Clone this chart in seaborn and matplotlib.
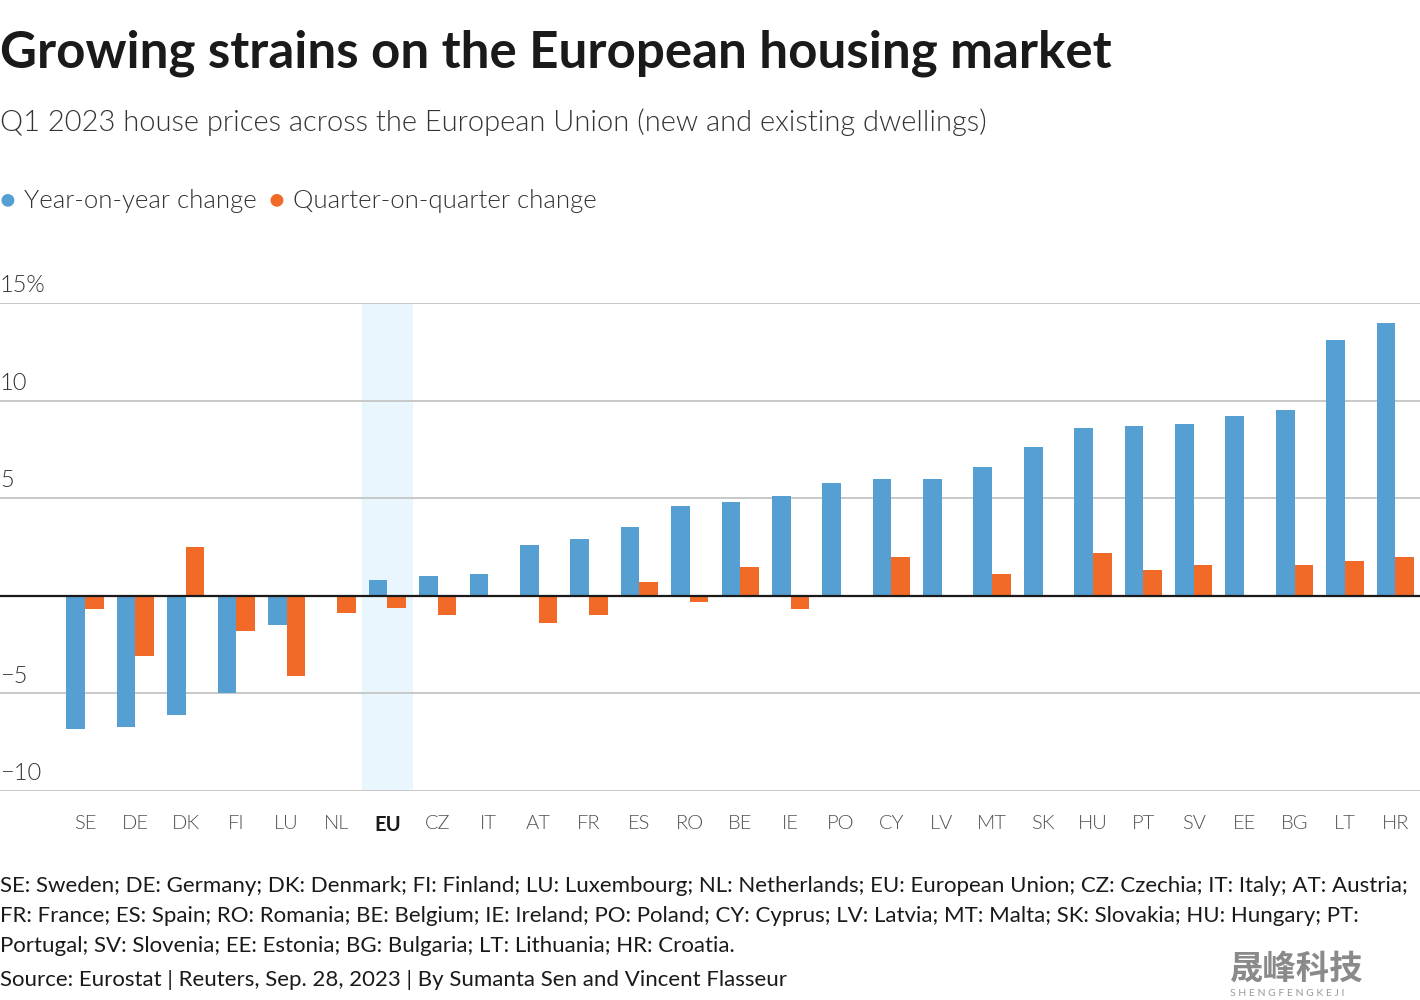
import matplotlib
matplotlib.use("Agg")
import matplotlib.pyplot as plt
import matplotlib.transforms as mtransforms
import numpy as np
import pandas as pd
import seaborn as sns

codes = ["SE", "DE", "DK", "FI", "LU", "NL", "EU", "CZ", "IT", "AT", "FR", "ES", "RO",
         "BE", "IE", "PO", "CY", "LV", "MT", "SK", "HU", "PT", "SV", "EE", "BG", "LT", "HR"]
yoy = [-6.8, -6.7, -6.1, -5.0, -1.5, np.nan, 0.8, 1.0, 1.1, 2.6, 2.9, 3.5, 4.6,
       4.8, 5.1, 5.8, 6.0, 6.0, 6.6, 7.6, 8.6, 8.7, 8.8, 9.2, 9.5, 13.1, 14.0]
qoq = [-0.7, -3.1, 2.5, -1.8, -4.1, -0.9, -0.6, -1.0, 0.05, -1.4, -1.0, 0.7, -0.3,
       1.5, -0.7, np.nan, 2.0, np.nan, 1.1, np.nan, 2.2, 1.3, 1.6, np.nan, 1.6, 1.8, 2.0]
series_names = ["Year-on-year change", "Quarter-on-quarter change"]
y_ticks = [15, 10, 5, -5, -10]
y_tick_labels = ["15%", "10", "5", "\u22125", "\u221210"]

BLUE = "#569fd3"
ORANGE = "#f26a28"

df = pd.DataFrame({
    "code": codes * 2,
    "value": yoy + qoq,
    "series": [series_names[0]] * len(codes) + [series_names[1]] * len(codes),
})

sns.set_theme(style="white")
plt.rcParams["font.family"] = ["Lato", "DejaVu Sans"]

fig = plt.figure(figsize=(14.2, 10), dpi=100)
ax = fig.add_axes([0.0, 0.209, 1.0, 0.488])

ax.axvspan(5.5, 6.5, color="#eaf6fd", zorder=0, lw=0)
for t in y_ticks:
    ax.axhline(t, color="#c8c8c8", lw=1.4, zorder=1)

sns.barplot(data=df, x="code", y="value", hue="series", order=codes,
            palette=[BLUE, ORANGE], width=0.74, saturation=1, legend=False,
            ax=ax, zorder=2, linewidth=0)
ax.axhline(0, color="#1a1a1a", lw=1.6, zorder=3)

ax.set_xlim(-1.687, 26.49)
ax.set_ylim(-10, 15)
for s in ax.spines.values():
    s.set_visible(False)
ax.set_yticks([])
ax.set_xlabel("")
ax.set_ylabel("")
ax.tick_params(axis="x", length=0, pad=17, labelsize=14.5, labelcolor="#505050")
for lbl in ax.get_xticklabels():
    lbl.set_fontweight(300)
    if lbl.get_text() == "EU":
        lbl.set_fontweight("bold")
        lbl.set_color("#1a1a1a")

trans = mtransforms.blended_transform_factory(ax.transAxes, ax.transData)
for t, lab in zip(y_ticks, y_tick_labels):
    ax.text(0.0, t + 0.35, lab, transform=trans, ha="left", va="bottom",
            fontsize=17, fontweight=300, color="#333333")

fig.text(0.0, 0.947, "Growing strains on the European housing market",
         fontsize=36.8, fontweight="bold", color="#1a1a1a", ha="left", va="center")
fig.text(0.0, 0.878, "Q1 2023 house prices across the European Union (new and existing dwellings)",
         fontsize=21, fontweight=300, color="#333333", ha="left", va="center")

fig.text(0.0, 0.800, "\u25CF", fontsize=19, color=BLUE, ha="left", va="center")
fig.text(0.017, 0.799, series_names[0], fontsize=18.5, fontweight=300, color="#333333",
         ha="left", va="center")
fig.text(0.189, 0.800, "\u25CF", fontsize=19, color=ORANGE, ha="left", va="center")
fig.text(0.206, 0.799, series_names[1], fontsize=18.5, fontweight=300, color="#333333",
         ha="left", va="center")

footer = ["SE: Sweden; DE: Germany; DK: Denmark; FI: Finland; LU: Luxembourg; NL: Netherlands; EU: European Union; CZ: Czechia; IT: Italy; AT: Austria;",
          "FR: France; ES: Spain; RO: Romania; BE: Belgium; IE: Ireland; PO: Poland; CY: Cyprus; LV: Latvia; MT: Malta; SK: Slovakia; HU: Hungary; PT:",
          "Portugal; SV: Slovenia; EE: Estonia; BG: Bulgaria; LT: Lithuania; HR: Croatia."]
for i, line in enumerate(footer):
    fig.text(0.0, 0.114 - i * 0.030, line, fontsize=16, color="#1a1a1a", ha="left", va="center")
fig.text(0.0, 0.020, "Source: Eurostat | Reuters, Sep. 28, 2023 | By Sumanta Sen and Vincent Flasseur",
         fontsize=16, color="#1a1a1a", ha="left", va="center")

fig.text(0.866, 0.031, "晟峰科技", fontsize=24, fontweight="bold", color="#8a8a8a",
         ha="left", va="center", family=["Noto Sans CJK SC", "DejaVu Sans"])
fig.text(0.866, 0.007, "S H E N G F E N G K E J I", fontsize=7.5, color="#9a9a9a",
         ha="left", va="center")

fig.savefig("out.png", dpi=100)
